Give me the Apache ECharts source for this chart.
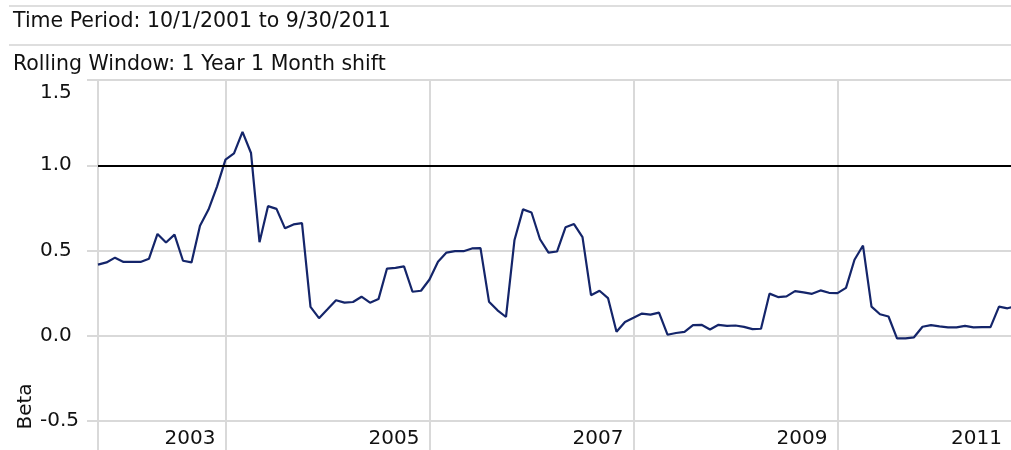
<!DOCTYPE html>
<html>
<head>
<meta charset="utf-8">
<script src="https://cdn.jsdelivr.net/npm/echarts@6/dist/echarts.min.js"></script>
<style>
html,body{margin:0;padding:0;background:#fff;}
#chart{width:1011px;height:450px;}
</style>
</head>
<body>
<div id="chart"></div>
<script>
// Monthly rolling 1-year beta, window ends Sep 2002 .. Sep 2011
const startYear = 2002, startMonth = 9, monthCount = 109;
const categories = [];
for (let i = 0; i < monthCount; i++) {
  const m = startMonth - 1 + i;
  const y = startYear + Math.floor(m / 12);
  const mm = (m % 12) + 1;
  categories.push(y + '-' + (mm < 10 ? '0' + mm : mm));
}
const betaValues = [
  0.417, 0.430, 0.458, 0.433, 0.433, 0.433, 0.452, 0.597, 0.547, 0.593,
  0.440, 0.430, 0.645, 0.740, 0.875, 1.033, 1.070, 1.196, 1.072, 0.549,
  0.760, 0.744, 0.630, 0.653, 0.661, 0.169, 0.103, 0.155, 0.208, 0.194,
  0.198, 0.229, 0.194, 0.215, 0.394, 0.398, 0.407, 0.258, 0.264, 0.330,
  0.434, 0.488, 0.496, 0.496, 0.512, 0.514, 0.200, 0.149, 0.110, 0.562,
  0.741, 0.723, 0.566, 0.488, 0.494, 0.636, 0.655, 0.578, 0.238, 0.264,
  0.221, 0.023, 0.081, 0.105, 0.130, 0.124, 0.136, 0.006, 0.016, 0.023,
  0.062, 0.064, 0.037, 0.064, 0.058, 0.060, 0.052, 0.039, 0.041, 0.247,
  0.227, 0.231, 0.262, 0.254, 0.246, 0.266, 0.252, 0.250, 0.281, 0.446,
  0.529, 0.171, 0.126, 0.113, -0.015, -0.015, -0.009, 0.053, 0.062, 0.055,
  0.049, 0.049, 0.058, 0.049, 0.051, 0.051, 0.171, 0.161, 0.175
];
const gridMonths = ['2003-12', '2005-12', '2007-12', '2009-12'];
const labelMonths = ['2003-12', '2005-12', '2007-12', '2009-12', '2011-09'];
const yTicks = [-0.5, 0.0, 0.5, 1.0, 1.5];
const referenceLevel = 1.0;
const headerLines = ['Time Period: 10/1/2001 to 9/30/2011', 'Rolling Window: 1 Year 1 Month shift'];
const yAxisTitle = 'Beta';

const FONT = 'DejaVu Sans';
const TXT = '#111';
const GRID = '#d9d9d9';

const chart = echarts.init(document.getElementById('chart'), null, {renderer: 'canvas'});
chart.setOption({
  animation: false,
  backgroundColor: '#fff',
  textStyle: {fontFamily: FONT},
  graphic: [
    {type: 'line', shape: {x1: 9, y1: 6, x2: 1011, y2: 6}, style: {stroke: '#dedede', lineWidth: 2}, silent: true},
    {type: 'line', shape: {x1: 9, y1: 45, x2: 1011, y2: 45}, style: {stroke: '#dedede', lineWidth: 2}, silent: true},
    {type: 'text', x: 13, y: 22, style: {text: headerLines[0], font: '20.5px "DejaVu Sans"', fill: TXT, align: 'left', verticalAlign: 'middle'}, silent: true},
    {type: 'text', x: 13, y: 65, style: {text: headerLines[1], font: '20.5px "DejaVu Sans"', fill: TXT, align: 'left', verticalAlign: 'middle'}, silent: true},
    {type: 'text', x: 26, y: 406.5, rotation: Math.PI / 2, style: {text: yAxisTitle, font: '20px "DejaVu Sans"', fill: TXT, align: 'center', verticalAlign: 'middle'}, silent: true}
  ],
  grid: {left: 98, right: -5, top: 80, bottom: 29, containLabel: false, outerBoundsMode: 'none'},
  xAxis: {
    type: 'category',
    data: categories,
    boundaryGap: false,
    axisLine: {show: true, onZero: false, lineStyle: {color: GRID, width: 2}},
    axisTick: {
      show: true, inside: false, length: 29,
      interval: (idx, val) => idx === 0 || gridMonths.indexOf(val) >= 0,
      lineStyle: {color: GRID, width: 2}
    },
    splitLine: {
      show: true,
      interval: (idx, val) => gridMonths.indexOf(val) >= 0,
      lineStyle: {color: GRID, width: 2}
    },
    axisLabel: {
      show: true,
      interval: (idx, val) => labelMonths.indexOf(val) >= 0,
      align: 'right',
      margin: 8,
      formatter: (val) => val === labelMonths[labelMonths.length - 1] ? '{b|' + val.slice(0, 4) + '}' : '{a|' + val.slice(0, 4) + '}',
      rich: {
        a: {fontSize: 20, fontFamily: FONT, color: TXT, padding: [0, 10, 0, 0]},
        b: {fontSize: 20, fontFamily: FONT, color: TXT, padding: [0, 14, 0, 0]}
      },
      fontSize: 20, fontFamily: FONT, color: TXT
    }
  },
  yAxis: {
    type: 'value',
    min: yTicks[0],
    max: yTicks[yTicks.length - 1],
    interval: 0.5,
    axisLine: {show: true, lineStyle: {color: GRID, width: 2}},
    axisTick: {show: true, length: 11, lineStyle: {color: GRID, width: 2}},
    splitLine: {show: true, lineStyle: {color: GRID, width: 2}},
    axisLabel: {
      show: true,
      align: 'left',
      margin: 58,
      fontSize: 20, fontFamily: FONT, color: TXT,
      formatter: (v) => v === yTicks[yTicks.length - 1] ? '{t|' + v.toFixed(1) + '}' : v.toFixed(1),
      rich: {t: {fontSize: 20, fontFamily: FONT, color: TXT, padding: [26, 0, 0, 0]}}
    }
  },
  series: [{
    type: 'line',
    data: betaValues,
    showSymbol: false,
    symbol: 'none',
    clip: true,
    lineStyle: {color: '#14256a', width: 2.2},
    itemStyle: {color: '#14256a'},
    emphasis: {disabled: true},
    markLine: {
      silent: true,
      symbol: ['none', 'none'],
      label: {show: false},
      lineStyle: {color: '#000', width: 2, type: 'solid'},
      emphasis: {disabled: true},
      data: [{yAxis: referenceLevel}]
    }
  }]
});
</script>
</body>
</html>
